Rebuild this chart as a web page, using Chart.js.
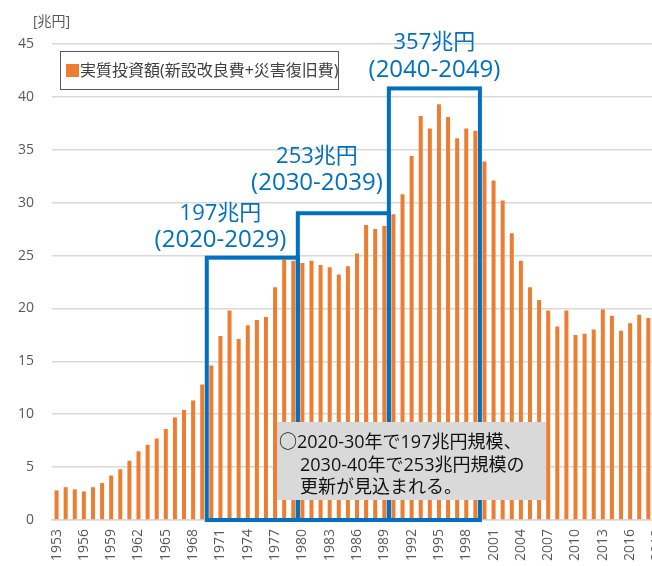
<!DOCTYPE html>
<html>
<head>
<meta charset="utf-8">
<script src="https://cdn.jsdelivr.net/npm/chart.js@4.4.1/dist/chart.umd.min.js"></script>
<style>
  html, body { margin: 0; padding: 0; background: #fff; overflow: hidden; }
  #wrap { width: 652px; height: 566px; overflow: hidden; }
  canvas { display: block; }
</style>
</head>
<body>
<div id="wrap"><canvas id="chart" width="662" height="566"></canvas></div>
<script>
// years on the x axis
const years = [
  1953, 1954, 1955, 1956, 1957, 1958, 1959, 1960, 1961, 1962,
  1963, 1964, 1965, 1966, 1967, 1968, 1969, 1970, 1971, 1972,
  1973, 1974, 1975, 1976, 1977, 1978, 1979, 1980, 1981, 1982,
  1983, 1984, 1985, 1986, 1987, 1988, 1989, 1990, 1991, 1992,
  1993, 1994, 1995, 1996, 1997, 1998, 1999, 2000, 2001, 2002,
  2003, 2004, 2005, 2006, 2007, 2008, 2009, 2010, 2011, 2012,
  2013, 2014, 2015, 2016, 2017, 2018, 2019
];

// 実質投資額 (兆円)
const investment = [
  2.8, 3.1, 2.9, 2.7, 3.1, 3.5, 4.2, 4.8, 5.6, 6.5,
  7.1, 7.7, 8.6, 9.7, 10.4, 11.3, 12.8, 14.6, 17.4, 19.8,
  17.1, 18.4, 18.9, 19.2, 22.0, 24.6, 24.5, 24.3, 24.5, 24.1,
  23.9, 23.2, 24.0, 25.2, 27.9, 27.5, 27.8, 28.9, 30.8, 34.4,
  38.2, 37.0, 39.3, 38.1, 36.1, 37.0, 36.8, 33.9, 32.1, 30.2,
  27.1, 24.5, 22.0, 20.8, 19.8, 18.3, 19.8, 17.5, 17.6, 18.0,
  19.9, 19.3, 17.9, 18.6, 19.4, 19.1, null
];

const yTicks = [0, 5, 10, 15, 20, 25, 30, 35, 40, 45];

// decade boxes: first year, last year, height (兆円), total, period
const boxStart = [1970, 1980, 1990];
const boxEnd = [1979, 1989, 1999];
const boxHeight = [24.8, 29.0, 40.8];
const boxTotal = ['197兆円', '253兆円', '357兆円'];
const boxPeriod = ['(2020-2029)', '(2030-2039)', '(2040-2049)'];

const noteLines = ['○2020-30年で197兆円規模、', '2030-40年で253兆円規模の', '更新が見込まれる。'];

// where the callout texts sit: [year position, value of the second line]
const calloutPos = [[1971, 26.6], [1981.6, 32.0], [1994.5, 42.7]];

const FONT = '"Open Sans", "Noto Sans CJK JP", sans-serif';
const ORANGE = '#ed7d31';
const BLUE = '#0070c0';
const GREY_TXT = '#595959';

const overlay = {
  id: 'overlay',
  afterDatasetsDraw(chart) {
    const ctx = chart.ctx;
    const x = chart.scales.x, y = chart.scales.y;
    const step = x.getPixelForValue(1) - x.getPixelForValue(0);
    ctx.save();
    // decade boxes
    ctx.strokeStyle = BLUE;
    ctx.lineWidth = 4;
    ctx.lineJoin = 'miter';
    boxStart.forEach((s, i) => {
      const l = x.getPixelForValue(years.indexOf(s)) - step / 2;
      const r = x.getPixelForValue(years.indexOf(boxEnd[i])) + step / 2;
      const t = y.getPixelForValue(boxHeight[i]);
      const b = y.getPixelForValue(0);
      ctx.strokeRect(l, t, r - l, b - t);
    });
    // callouts
    ctx.fillStyle = BLUE;
    ctx.textAlign = 'center';
    ctx.textBaseline = 'alphabetic';
    calloutPos.forEach((p, i) => {
      const cx = x.getPixelForValue(p[0] - years[0]);
      const cy = y.getPixelForValue(p[1]);
      ctx.font = '22px ' + FONT;
      ctx.fillText(boxTotal[i], cx, cy - 27 + 8);
      ctx.font = '24px ' + FONT;
      ctx.fillText(boxPeriod[i], cx, cy + 8.5);
    });
    // note box
    ctx.fillStyle = '#d9d9d9';
    ctx.fillRect(277, 422, 269, 78);
    ctx.fillStyle = '#111';
    ctx.font = '18px ' + FONT;
    ctx.textAlign = 'left';
    ctx.fillText(noteLines[0], 279, 447.5);
    ctx.fillText(noteLines[1], 300, 470.5);
    ctx.fillText(noteLines[2], 300, 492.5);
    // legend
    ctx.fillStyle = '#fff';
    ctx.fillRect(60.5, 51.5, 278, 38);
    ctx.strokeStyle = '#595959';
    ctx.lineWidth = 1;
    ctx.strokeRect(60.5, 51.5, 278, 38);
    ctx.fillStyle = ORANGE;
    ctx.fillRect(66, 64, 13, 13);
    ctx.fillStyle = '#404040';
    ctx.font = '16px ' + FONT;
    ctx.fillText(chart.data.datasets[0].label, 80, 76);
    // unit
    ctx.fillStyle = GREY_TXT;
    ctx.font = '14px ' + FONT;
    ctx.fillText('[兆円]', 33, 26);
    ctx.restore();
  }
};

new Chart(document.getElementById('chart'), {
  type: 'bar',
  data: {
    labels: years.map(String),
    datasets: [{
      label: '実質投資額(新設改良費+災害復旧費)',
      data: investment,
      backgroundColor: ORANGE,
      barPercentage: 0.9,
      categoryPercentage: 0.49
    }]
  },
  options: {
    responsive: false,
    animation: false,
    layout: { padding: { top: 44, right: 0, bottom: 0, left: 0 } },
    plugins: { legend: { display: false }, tooltip: { enabled: false } },
    scales: {
      x: {
        grid: { display: false, drawTicks: false },
        border: { color: '#d9d9d9', width: 1.5 },
        ticks: {
          autoSkip: false, minRotation: 90, maxRotation: 90, padding: 9,
          color: GREY_TXT, font: { size: 14, family: FONT },
          callback: (v, i) => (i % 3 === 0 ? years[i] : '')
        },
        afterFit: s => { s.height = 46; s.paddingLeft = 0; s.paddingRight = 0; }
      },
      y: {
        min: 0, max: 45,
        afterBuildTicks: s => { s.ticks = yTicks.map(v => ({ value: v })); },
        ticks: { padding: 18, color: GREY_TXT, font: { size: 14, family: FONT } },
        grid: { color: '#d9d9d9', lineWidth: 1.5, drawTicks: false },
        border: { display: false },
        afterFit: s => { s.width = 52; }
      }
    }
  },
  plugins: [overlay]
});
</script>
</body>
</html>
